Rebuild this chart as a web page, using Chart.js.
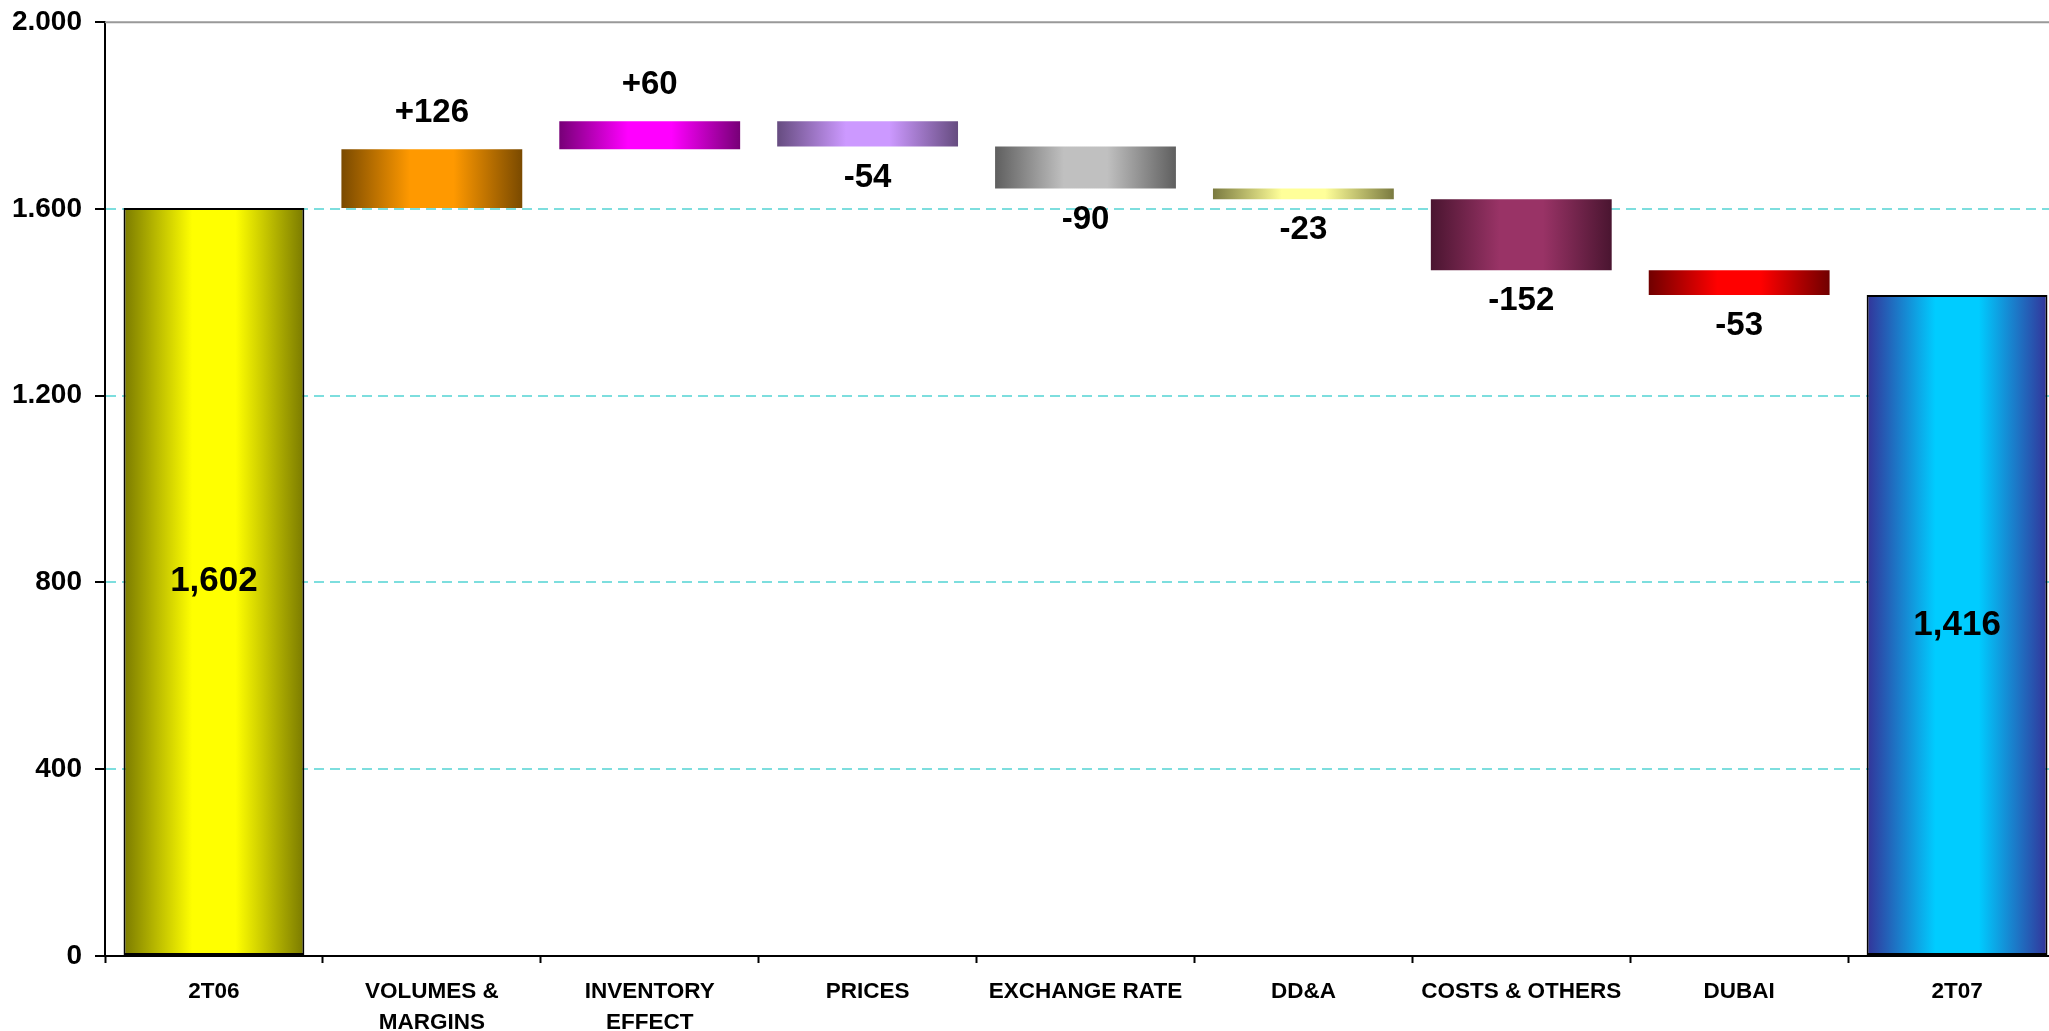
<!DOCTYPE html>
<html>
<head>
<meta charset="utf-8">
<script src="https://cdn.jsdelivr.net/npm/chart.js@4/dist/chart.umd.min.js"></script>
<style>
  html, body { margin: 0; padding: 0; background: #fff; overflow: hidden; }
  canvas { display: block; }
</style>
</head>
<body>
<canvas id="bridge" width="2068" height="1031"></canvas>
<script>
const categories = ['2T06', ['VOLUMES &', 'MARGINS'], ['INVENTORY', 'EFFECT'], 'PRICES',
  'EXCHANGE RATE', 'DD&A', 'COSTS & OTHERS', 'DUBAI', '2T07'];
const openingTotal = 1602;
const closingTotal = 1416;
const deltas = [126, 60, -54, -90, -23, -152, -53];
const yTickStep = 400;

// edge / centre colours of each bar's horizontal gradient
const barShades = [
  ['#7a7a00', '#ffff00'],
  ['#7a4a00', '#ff9900'],
  ['#770077', '#ff00ff'],
  ['#664c80', '#cc99ff'],
  ['#5f5f5f', '#c0c0c0'],
  ['#7a7a40', '#ffff99'],
  ['#4a1530', '#993366'],
  ['#700000', '#ff0000'],
  ['#333399', '#00ccff']
];

const BAR_PCT = 0.83;
const FONT = "'Liberation Sans', Arial, sans-serif";

// floating [from, to] ranges for the waterfall
const ranges = [[0, openingTotal]];
let level = openingTotal;
deltas.forEach(d => { ranges.push([level, level + d]); level += d; });
ranges.push([0, closingTotal]);
const isTotal = i => i === 0 || i === categories.length - 1;

function shade(ctx) {
  const i = ctx.dataIndex;
  const pair = barShades[i] || barShades[0];
  const chart = ctx.chart;
  const area = chart.chartArea;
  const xs = chart.scales.x;
  if (i === undefined || !area || !xs) return pair[1];
  const cx = xs.getPixelForValue(i);
  const half = (area.right - area.left) / categories.length * BAR_PCT / 2;
  const g = chart.ctx.createLinearGradient(cx - half, 0, cx + half, 0);
  g.addColorStop(0, pair[0]);
  g.addColorStop(0.38, pair[1]);
  g.addColorStop(0.62, pair[1]);
  g.addColorStop(1, pair[0]);
  return g;
}

const frame = {
  id: 'frame',
  beforeDatasetsDraw(chart) {
    const {ctx, chartArea: a} = chart;
    ctx.save();
    ctx.strokeStyle = '#999999';
    ctx.lineWidth = 2;
    ctx.beginPath();
    ctx.moveTo(a.left, a.top);
    ctx.lineTo(a.right, a.top);
    ctx.stroke();
    ctx.restore();
  }
};

const valueLabels = {
  id: 'valueLabels',
  afterDatasetsDraw(chart) {
    const ctx = chart.ctx;
    const meta = chart.getDatasetMeta(0);
    ctx.save();
    ctx.fillStyle = '#000';
    ctx.textAlign = 'center';
    ctx.textBaseline = 'middle';
    meta.data.forEach((bar, i) => {
      const top = Math.min(bar.y, bar.base);
      const bottom = Math.max(bar.y, bar.base);
      if (isTotal(i)) {
        const v = i === 0 ? openingTotal : closingTotal;
        ctx.font = 'bold 35px ' + FONT;
        ctx.fillText(v.toLocaleString('en-US'), bar.x, (top + bottom) / 2);
      } else {
        const d = deltas[i - 1];
        ctx.font = 'bold 33px ' + FONT;
        if (d >= 0) ctx.fillText('+' + d, bar.x, top - 36);
        else ctx.fillText(String(d), bar.x, bottom + 31);
      }
    });
    ctx.restore();
  }
};

new Chart(document.getElementById('bridge'), {
  type: 'bar',
  data: {
    labels: categories,
    datasets: [{
      data: ranges,
      backgroundColor: shade,
      borderColor: '#000',
      borderWidth: ctx => isTotal(ctx.dataIndex) ? 2 : 0,
      borderSkipped: false,
      barPercentage: BAR_PCT,
      categoryPercentage: 1
    }]
  },
  options: {
    responsive: false,
    animation: false,
    devicePixelRatio: 1,
    layout: { padding: { top: 22, right: 2, left: 0, bottom: 0 } },
    plugins: { legend: { display: false }, tooltip: { enabled: false } },
    scales: {
      x: {
        offset: true,
        grid: { display: true, offset: true, drawOnChartArea: false, tickLength: 7, tickColor: '#000', tickWidth: 2 },
        border: { color: '#000', width: 2 },
        ticks: {
          autoSkip: false, maxRotation: 0, minRotation: 0, padding: 13.5, color: '#000',
          font: { family: FONT, size: 22.5, weight: 'bold', lineHeight: 1.37 }
        },
        afterFit(s) { s.height = 75; }
      },
      y: {
        min: 0,
        max: 2000,
        ticks: {
          stepSize: yTickStep, padding: 13, color: '#000',
          font: { family: FONT, size: 28, weight: 'bold', lineHeight: 0.66 },
          callback: v => v >= 1000 ? Math.floor(v / 1000) + '.' + String(v % 1000).padStart(3, '0') : String(v)
        },
        grid: {
          color: ctx => (ctx.tick && (ctx.tick.value === 0 || ctx.tick.value === 2000)) ? 'rgba(0,0,0,0)' : '#7ddede',
          lineWidth: 2, tickColor: '#000', tickLength: 10, tickWidth: 2
        },
        border: { color: '#000', width: 2, dash: [10, 6] },
        afterFit(s) { s.width = 105; }
      }
    }
  },
  plugins: [frame, valueLabels]
});
</script>
</body>
</html>
